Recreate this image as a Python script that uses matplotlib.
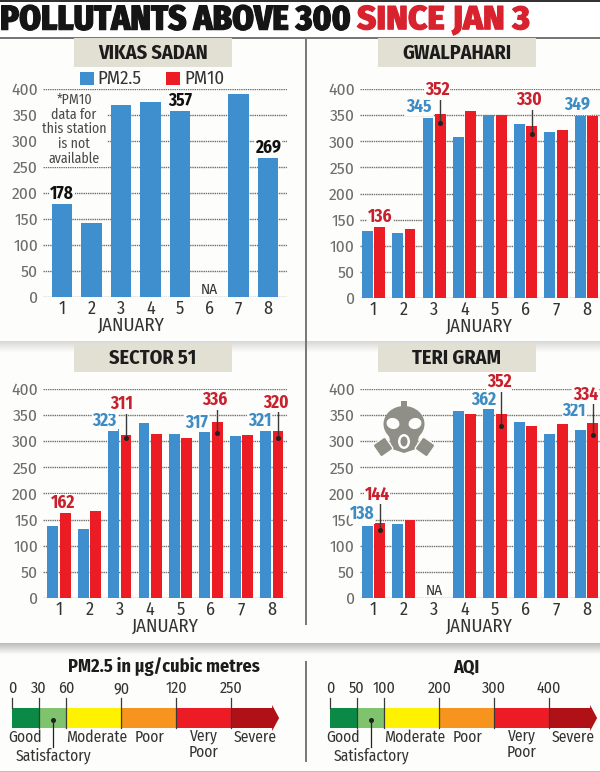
import matplotlib
matplotlib.use("Agg")
import matplotlib.pyplot as plt
import matplotlib.patheffects as pe
from matplotlib.colors import to_rgb
from matplotlib.patches import Rectangle, Polygon, Ellipse, FancyBboxPatch
from matplotlib.transforms import Affine2D
import logging
logging.getLogger('matplotlib.font_manager').setLevel(logging.ERROR)

plt.rcParams['font.family'] = ['Fira Sans Condensed', 'PT Sans Narrow', 'Roboto Condensed', 'Roboto', 'DejaVu Sans']

# ---------- data ----------
days = [1, 2, 3, 4, 5, 6, 7, 8]
y_ticks = [0, 50, 100, 150, 200, 250, 300, 350, 400]

vikas_pm25 = [178, 142, 368, 375, 357, None, 390, 269]
gwal_pm25 = [128, 124, 345, 308, 350, 333, 317, 349]
gwal_pm10 = [136, 132, 352, 358, 350, 330, 321, 349]
sector_pm25 = [138, 131, 323, 335, 313, 317, 309, 321]
sector_pm10 = [162, 167, 311, 313, 305, 336, 311, 320]
teri_pm25 = [138, 142, None, 357, 362, 336, 313, 321]
teri_pm10 = [144, 150, None, 351, 352, 328, 332, 334]

pm_ticks = ['0', '30', '60', '90', '120', '250']
aqi_ticks = ['0', '50', '100', '200', '300', '400']
band_units = [1, 1, 2, 2, 2]

BLUE = '#3f8fce'
RED = '#ec1c24'
BLUE_T = '#3d8cc4'
RED_T = '#c9202e'
GREY_T = '#6d6d6a'
DARK_T = '#333333'
BG = '#fdfdfb'
BAND = ['#0b8a45', '#7fc46c', '#fff200', '#f7941d', '#ed1c24', '#b01116']

W, H = 600, 772
fig = plt.figure(figsize=(W / 100, H / 100), dpi=100, facecolor=BG)

bg = fig.add_axes([0, 0, 1, 1])
bg.set_xlim(0, W)
bg.set_ylim(H, 0)
bg.axis('off')

# ---------- page furniture ----------
bg.add_patch(Rectangle((0, 0), W, 2, fc='#333333', ec='none'))
bg.add_patch(Rectangle((0, 2), W, 35, fc='white', ec='none'))
bg.add_patch(Rectangle((0, 37), W, 2, fc='#777777', ec='none'))
for top, dark in ((341, '#d8d8d6'), (643, '#bdbdbb')):
    n = 12
    for i in range(n):
        frac = i / (n - 1)
        col = to_rgb(dark)
        base = to_rgb(BG)
        c = tuple(col[k] * (1 - frac) + base[k] * frac for k in range(3))
        bg.add_patch(Rectangle((0, top + i), W, 1.2, fc=c, ec='none'))
bg.add_patch(Rectangle((0, 770.5), W, 1.5, fc='#bdbdbb', ec='none'))
bg.add_patch(Rectangle((304.5, 38), 2, 587, fc='#7a7a7a', ec='none'))
bg.add_patch(Rectangle((304.5, 661), 2, 101, fc='#7a7a7a', ec='none'))

bg.text(0, 20.5, 'POLLUTANTS ABOVE 300', fontsize=25, fontweight=800, color='#151515',
        ha='left', va='center',
        path_effects=[pe.withStroke(linewidth=0.8, foreground='#151515')])
bg.text(357, 20.5, 'SINCE JAN 3', fontsize=24, fontweight=800, color='#d8232f',
        family=['Fira Sans', 'Fira Sans Condensed', 'Roboto', 'DejaVu Sans'],
        ha='left', va='center',
        path_effects=[pe.withStroke(linewidth=0.8, foreground='#d8232f')])

for x0, y0, name in ((74, 38, 'VIKAS SADAN'), (378, 38, 'GWALPAHARI'),
                     (74, 343, 'SECTOR 51'), (378, 343, 'TERI GRAM')):
    bg.add_patch(Rectangle((x0, y0), 158, 28.5, fc='#e2e0d3', ec='none'))
    bg.text(x0 + 79, y0 + 15, name, fontsize=14.5, fontweight='bold', color='#1c1c1c',
            ha='center', va='center')

# ---------- legend ----------
bg.add_patch(Rectangle((80, 71.5), 13.5, 13.5, fc=BLUE, ec='none'))
bg.text(97, 78.5, 'PM2.5', fontsize=13.5, color=DARK_T, ha='left', va='center')
bg.add_patch(Rectangle((166, 71.5), 13.5, 13.5, fc=RED, ec='none'))
bg.text(184, 78.5, 'PM10', fontsize=13.5, color=DARK_T, ha='left', va='center')

PX_PER_UNIT = 0.5225


def panel(x_left, x_right, y_top, y_bottom, first, step, xlabel_px):
    ax = fig.add_axes([x_left / W, 1 - y_bottom / H, (x_right - x_left) / W,
                       (y_bottom - y_top) / H])
    ax.patch.set_alpha(0)
    ax.set_xlim(1 + (x_left - first) / step, 1 + (x_right - first) / step)
    ax.set_ylim(0, 400)
    ax.set_xticks(days)
    ax.set_yticks(y_ticks)
    ax.tick_params(axis='y', length=0, pad=3.6, labelsize=12.5, labelcolor=GREY_T)
    ax.tick_params(axis='x', length=0, pad=2.4, labelsize=13, labelcolor=DARK_T)
    for s in ax.spines.values():
        s.set_visible(False)
    ax.grid(axis='y', color='#6f6f6f', lw=1.0, ls=(0, (1, 0.6)), zorder=1)
    ax.set_axisbelow(True)
    ax.set_xlabel('JANUARY', fontsize=13.5, color=DARK_T, labelpad=-0.8,
                  x=(xlabel_px - x_left) / (x_right - x_left))
    return ax, step


def bars(ax, step, blue, red=None):
    if red is None:
        w = 20.5 / step
        for d, v in zip(days, blue):
            if v is not None:
                ax.bar(d, v, width=w, color=BLUE, zorder=2)
        return
    w = 10.9 / step
    off = 6.2 / step
    for d, b, r in zip(days, blue, red):
        if b is not None:
            ax.bar(d - off, b, width=w, color=BLUE, zorder=2)
        if r is not None:
            ax.bar(d + off, r, width=w, color=RED, zorder=2)


def label(ax, step, series, which, idx, dx, dy, drop=None, color=None):
    v = series[idx]
    off = {'b': -6.2 / step, 'r': 6.2 / step, 'c': 0}[which]
    x = days[idx] + off
    col = color or {'b': BLUE_T, 'r': RED_T, 'c': '#111111'}[which]
    if drop is not None:
        y_hi = v + (dy - 9) / PX_PER_UNIT
        y_lo = v - drop / PX_PER_UNIT
        ax.plot([x, x], [y_lo, y_hi], color='#3a3a3a', lw=1.0, zorder=3, clip_on=False)
        ax.plot([x], [y_lo], 'o', ms=2.6, color='#222222', zorder=3)
    ax.annotate(str(v), xy=(x, v), xytext=(dx, dy), textcoords='offset pixels',
                ha='center', va='center', fontsize=12.5, fontweight='bold', color=col,
                zorder=4, annotation_clip=False,
                bbox=dict(fc=BG, ec='none', pad=0.6))


# ---------- Vikas Sadan ----------
a1, s1 = panel(43, 287, 88.7, 297, 62, 29.45, 131)
bars(a1, s1, vikas_pm25)
label(a1, s1, vikas_pm25, 'c', 0, 0, 10)
label(a1, s1, vikas_pm25, 'c', 4, 0, 10)
label(a1, s1, vikas_pm25, 'c', 7, 0, 9)
a1.text(6, 0, 'NA', fontsize=11, color=DARK_T, ha='center', va='bottom')
a1.text(1.41, 322, '*PM10\ndata for\nthis station\nis not\navailable', fontsize=10,
        color='#4a4a4a', ha='center', va='center', linespacing=1.05, zorder=4,
        bbox=dict(fc=BG, ec='none', pad=0.5))

# ---------- Gwalpahari ----------
a2, s2 = panel(360, 600, 89, 298, 373.3, 30.45, 479)
bars(a2, s2, gwal_pm25, gwal_pm10)
label(a2, s2, gwal_pm10, 'r', 0, 0.5, 10)
label(a2, s2, gwal_pm25, 'b', 2, -9, 11)
label(a2, s2, gwal_pm10, 'r', 2, -3.4, 24, drop=9)
label(a2, s2, gwal_pm10, 'r', 5, -3, 25.6, drop=8)
label(a2, s2, gwal_pm25, 'b', 7, -3, 10.6)

# ---------- Sector 51 ----------
a3, s3 = panel(43, 287, 388.7, 598, 59, 30.4, 165)
bars(a3, s3, sector_pm25, sector_pm10)
label(a3, s3, sector_pm10, 'r', 0, -2.5, 10)
label(a3, s3, sector_pm25, 'b', 2, -9, 8)
label(a3, s3, sector_pm10, 'r', 2, -4, 31, drop=3)
label(a3, s3, sector_pm25, 'b', 5, -8, 9.4)
label(a3, s3, sector_pm10, 'r', 5, -2, 22, drop=11)
label(a3, s3, sector_pm25, 'b', 7, -6, 9)
label(a3, s3, sector_pm10, 'r', 7, -2, 28, drop=7)

# ---------- Teri Gram ----------
a4, s4 = panel(360, 600, 388.7, 598, 373.3, 30.45, 479)
bars(a4, s4, teri_pm25, teri_pm10)
label(a4, s4, teri_pm25, 'b', 0, -5, 12)
label(a4, s4, teri_pm10, 'r', 0, -2.5, 28, drop=7)
label(a4, s4, teri_pm25, 'b', 4, -5, 9)
label(a4, s4, teri_pm10, 'r', 4, -2, 32, drop=12)
label(a4, s4, teri_pm25, 'b', 7, -6, 19)
label(a4, s4, teri_pm10, 'r', 7, -7, 28.5, drop=12)
a4.text(3, 0, 'NA', fontsize=11, color=DARK_T, ha='center', va='bottom')

# ---------- gas mask icon ----------
mask = fig.add_axes([0, 0, 1, 1])
mask.set_xlim(0, W)
mask.set_ylim(H, 0)
mask.axis('off')
mask.patch.set_alpha(0)
MC = '#8f8f88'
mask.add_patch(Rectangle((401, 401), 6, 8, fc=MC, ec='none'))
mask.add_patch(Ellipse((404, 424), 41, 36, fc=MC, ec='none'))
mask.add_patch(Polygon([(388, 432), (420, 432), (416, 449), (404, 453), (392, 449)], fc=MC, ec='none'))
mask.add_patch(Ellipse((393, 423.5), 13, 11, angle=15, fc=BG, ec='none'))
mask.add_patch(Ellipse((415, 423.5), 13, 11, angle=-15, fc=BG, ec='none'))
mask.add_patch(Ellipse((404, 441.5), 12, 15, fc=BG, ec='none'))
mask.add_patch(Ellipse((404, 441.5), 7, 10, fc=MC, ec='none'))
for cx, ang in ((383, -35), (425, 35)):
    box = FancyBboxPatch((cx - 7.5, 439.5), 15, 15, boxstyle='round,pad=0,rounding_size=2',
                         fc=MC, ec=BG, lw=1.0)
    box.set_transform(Affine2D().rotate_deg_around(cx, 447, ang) + mask.transData)
    mask.add_patch(box)


# ---------- colour scales ----------
def scale(x0, title, title_x, ticks):
    unit = 27.45
    top, bot = 708, 728
    x = x0
    edges = [x0]
    for u, c in zip(band_units, BAND):
        bg.add_patch(Rectangle((x, top), u * unit, bot - top, fc=c, ec='none'))
        x += u * unit
        edges.append(x)
    end = x
    bg.add_patch(Polygon([(end, top), (end + 41, top), (end + 41, 705), (end + 48, 718),
                          (end + 41, 731), (end + 41, bot), (end, bot)], fc=BAND[5], ec='none'))
    for e, t in zip(edges, ticks):
        bg.plot([e, e], [698, 728 if e != edges[0] else 708], color='#3a3a3a', lw=0.9)
        bg.text(e + (1 if e == edges[0] else 0), 688.5, t, fontsize=11.5, color=DARK_T,
                ha='center', va='center')
    bg.text(title_x, 667, title, fontsize=13.2, fontweight='bold', color='#1c1c1c',
            ha='center', va='center')
    for txt, cx, cy in (('Good', 13.5, 737), ('Moderate', 85.5, 737), ('Poor', 138.5, 737),
                        ('Very\nPoor', 192.5, 744), ('Severe', 243.5, 737),
                        ('Satisfactory', 41.5, 756)):
        bg.text(x0 + cx, cy, txt, fontsize=11.2, color=DARK_T, ha='center', va='center',
                linespacing=1.0)
    bg.plot([x0 + 41.5, x0 + 41.5], [720, 747], color='#222222', lw=0.9)
    bg.plot([x0 + 41.5], [720], 'o', ms=2.6, color='#222222')


scale(11.5, 'PM2.5 in µg/cubic metres', 164, pm_ticks)
scale(329.5, 'AQI', 466, aqi_ticks)
bg.set_xlim(0, W)
bg.set_ylim(H, 0)

fig.savefig('out.png', dpi=100, facecolor=BG)
